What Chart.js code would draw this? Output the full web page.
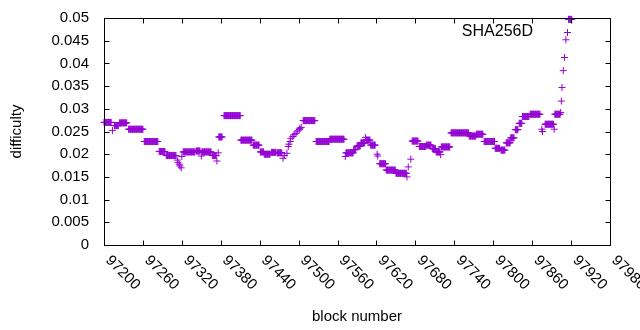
<!DOCTYPE html>
<html><head><meta charset="utf-8">
<script src="https://cdn.jsdelivr.net/npm/chart.js@4/dist/chart.umd.min.js"></script>
<style>html,body{margin:0;padding:0;background:#fff}</style>
</head><body>
<canvas id="c" width="640" height="330"></canvas>
<script>
// Runs of consecutive blocks sharing one difficulty value
const runFrom = [97200,97213,97216,97224,97238,97262,97285,97296,97313,97314,97316,97317,97319,97320,97322,97342,97350,97351,97367,97374,97376,97377,97385,97411,97430,97441,97447,97458,97467,97476,97478,
  97482,97484,97485,97487,97488,97491,97493,97496,97498,97501,97502,97504,
  97507,97527,97548,97572,97573,97585,97590,97596,97603,97604,97611,97621,97622,97625,97635,97650,97667,97669,97673,
  97675,97686,97697,97706,97712,97719,97720,97735,97763,97774,97786,97803,97812,97820,97827,97834,97840,97845,97857,
  97875,97876,97880,97894,97895,97904,97905,97906,97908,97910,97912,97916];
const runTo = [97211,97213,97222,97235,97260,97283,97294,97311,97313,97314,97316,97317,97319,97320,97340,97348,97350,97365,97373,97374,97376,97382,97410,97428,97439,97446,97456,97465,97474,97476,97478,
  97482,97484,97485,97487,97488,97491,97493,97496,97498,97501,97502,97504,
  97525,97547,97570,97572,97584,97588,97595,97602,97603,97610,97618,97621,97622,97634,97649,97666,97667,97669,97673,
  97684,97696,97704,97711,97718,97719,97733,97762,97773,97784,97802,97810,97818,97826,97832,97838,97844,97855,97872,
  97875,97876,97893,97894,97903,97904,97905,97906,97908,97910,97912,97921];
const runDifficulty = [0.0270,0.0252,0.0263,0.0269,0.0255,0.0228,0.0206,0.0197,0.0187,0.0182,0.0178,0.0174,0.0170,0.0195,0.0205,0.0207,0.0196,0.0205,0.0197,0.0185,0.0203,0.0238,0.0285,0.0231,0.0220,0.0205,0.0200,0.0204,0.0203,0.0191,0.0197,
  0.0202,0.0217,0.0222,0.0228,0.0235,0.0239,0.0243,0.0246,0.0251,0.0254,0.0257,0.0259,
  0.0274,0.0228,0.0233,0.0195,0.0203,0.0210,0.0218,0.0225,0.0237,0.0231,0.0220,0.0200,0.0196,0.0179,0.0165,0.0158,0.0150,0.0172,0.0189,
  0.0229,0.0217,0.0220,0.0212,0.0205,0.0199,0.0216,0.0247,0.0240,0.0244,0.0228,0.0213,0.0209,0.0225,0.0236,0.0254,0.0268,0.0283,0.0288,
  0.0255,0.0250,0.0266,0.0255,0.0288,0.0292,0.0317,0.0347,0.0384,0.0413,0.0452,0.0497];
const seriesName = 'SHA256D';
const xTitle = 'block number';
const yTitle = 'difficulty';
const xMin = 97200, xMax = 97980, xStep = 60;
const yMin = 0, yMax = 0.05, yStep = 0.005;

const points = [];
runFrom.forEach((f, i) => { for (let b = f; b <= runTo[i]; b++) points.push({x: b, y: runDifficulty[i]}); });

const COLOR = '#9400d3';
const FONT_FAMILY = '"Liberation Sans", Arial, sans-serif';
const FS = 15;

const frame = {
  id: 'frame',
  afterDraw(chart) {
    const {ctx, chartArea: a, scales: {x, y}} = chart;
    ctx.save();
    ctx.strokeStyle = '#000'; ctx.lineWidth = 1;
    const L = Math.round(a.left) + 0.5, R = Math.round(a.right) + 0.5, T = Math.round(a.top) + 0.5, B = Math.round(a.bottom) + 0.5;
    ctx.beginPath(); ctx.rect(L, T, R - L, B - T); ctx.stroke();
    const TL = 5;
    ctx.beginPath();
    x.ticks.forEach(t => { const px = Math.round(x.getPixelForValue(t.value)) + 0.5;
      ctx.moveTo(px, B); ctx.lineTo(px, B - TL); ctx.moveTo(px, T); ctx.lineTo(px, T + TL); });
    y.ticks.forEach(t => { const py = Math.round(y.getPixelForValue(t.value)) + 0.5;
      ctx.moveTo(L, py); ctx.lineTo(L + TL, py); ctx.moveTo(R, py); ctx.lineTo(R - TL, py); });
    ctx.stroke();
    ctx.fillStyle = '#000'; ctx.font = FS + 'px ' + FONT_FAMILY;
    ctx.textAlign = 'left'; ctx.textBaseline = 'middle';
    x.ticks.forEach(t => { const px = x.getPixelForValue(t.value);
      ctx.save(); ctx.translate(px + 4, a.bottom + 13); ctx.rotate(Math.PI / 4);
      ctx.fillText(String(t.value), 0, 0); ctx.restore(); });
    // key
    ctx.textAlign = 'right';
    ctx.font = '16px ' + FONT_FAMILY;
    ctx.fillText(seriesName, 533, 32);
    ctx.strokeStyle = COLOR;
    ctx.beginPath(); ctx.moveTo(564, 32.5); ctx.lineTo(571, 32.5); ctx.moveTo(567.5, 29); ctx.lineTo(567.5, 36); ctx.stroke();
    ctx.restore();
  }
};

new Chart(document.getElementById('c'), {
  type: 'scatter',
  data: { datasets: [{ label: seriesName, data: points, pointStyle: 'cross', pointRadius: 3.5,
    borderColor: COLOR, backgroundColor: COLOR, borderWidth: 1, clip: 10 }] },
  options: {
    responsive: false, animation: false, devicePixelRatio: 1,
    layout: { padding: { left: 0, top: 18, right: 30, bottom: 0 } },
    plugins: { legend: { display: false }, tooltip: { enabled: false } },
    scales: {
      x: { type: 'linear', min: xMin, max: xMax,
        ticks: { stepSize: xStep, display: false, callback: v => String(v) },
        grid: { display: false, drawTicks: false }, border: { display: false },
        title: { display: true, text: xTitle, color: '#000', font: { size: FS, family: FONT_FAMILY }, padding: { top: 0, bottom: 4 } },
        afterFit: s => { s.height = 85; s.paddingLeft = 0; s.paddingRight = 0; } },
      y: { type: 'linear', min: yMin, max: yMax,
        ticks: { stepSize: yStep, color: '#000', padding: 15, font: { size: FS, family: FONT_FAMILY },
          callback: v => String(+v.toFixed(3)) },
        grid: { display: false, drawTicks: false }, border: { display: false },
        title: { display: true, text: yTitle, color: '#000', font: { size: FS, family: FONT_FAMILY }, padding: { top: 8, bottom: 0 } },
        afterFit: s => { s.width = 104; s.paddingTop = 0; s.paddingBottom = 0; } }
    }
  },
  plugins: [frame]
});
</script>
</body></html>
